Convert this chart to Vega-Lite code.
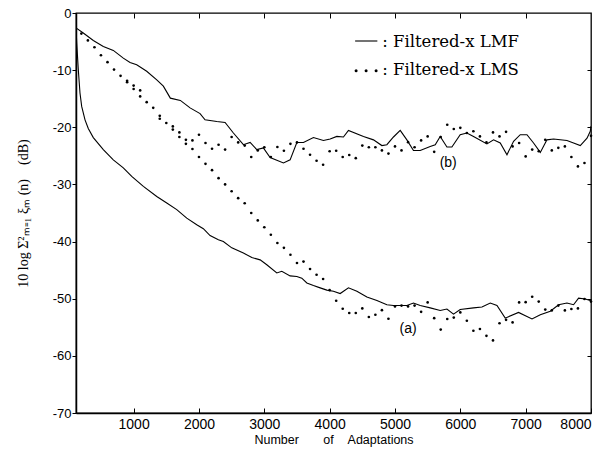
{
  "$schema": "https://vega.github.io/schema/vega-lite/v6.json",
  "width": 515,
  "height": 400,
  "autosize": "none",
  "padding": {"left": 76, "top": 13, "right": 16, "bottom": 37},
  "background": "white",
  "config": {
    "view": {"stroke": "black", "strokeWidth": 1.3},
    "axis": {"grid": false, "domainColor": "black", "tickColor": "black", "labelColor": "black", "titleColor": "black", "labelFont": "Liberation Sans", "titleFont": "Liberation Sans", "titleFontWeight": "normal", "domainWidth": 1.5}
  },
  "datasets": {
    "lmf": [
      {"n":118,"db":-2.6,"curve":"b"},{"n":230,"db":-3.5,"curve":"b"},{"n":383,"db":-4.8,"curve":"b"},{"n":536,"db":-5.85,"curve":"b"},{"n":689,"db":-6.55,"curve":"b"},{"n":842,"db":-7.9,"curve":"b"},{"n":945,"db":-8.65,"curve":"b"},{"n":1047,"db":-9.05,"curve":"b"},{"n":1200,"db":-10.2,"curve":"b"},{"n":1354,"db":-11.7,"curve":"b"},{"n":1455,"db":-12.8,"curve":"b"},{"n":1562,"db":-14.9,"curve":"b"},{"n":1715,"db":-15.3,"curve":"b"},{"n":1864,"db":-16.6,"curve":"b"},{"n":2017,"db":-17.6,"curve":"b"},{"n":2093,"db":-18.7,"curve":"b"},{"n":2273,"db":-19.0,"curve":"b"},{"n":2400,"db":-19.15,"curve":"b"},{"n":2527,"db":-21.0,"curve":"b"},{"n":2680,"db":-23.05,"curve":"b"},{"n":2783,"db":-22.65,"curve":"b"},{"n":2885,"db":-23.9,"curve":"b"},{"n":2986,"db":-23.6,"curve":"b"},{"n":3089,"db":-25.3,"curve":"b"},{"n":3293,"db":-26.25,"curve":"b"},{"n":3395,"db":-25.7,"curve":"b"},{"n":3498,"db":-22.65,"curve":"b"},{"n":3599,"db":-22.65,"curve":"b"},{"n":3752,"db":-21.8,"curve":"b"},{"n":3905,"db":-22.3,"curve":"b"},{"n":4008,"db":-22.05,"curve":"b"},{"n":4110,"db":-21.6,"curve":"b"},{"n":4211,"db":-21.7,"curve":"b"},{"n":4288,"db":-20.55,"curve":"b"},{"n":4518,"db":-21.6,"curve":"b"},{"n":4671,"db":-22.2,"curve":"b"},{"n":4799,"db":-23.2,"curve":"b"},{"n":4876,"db":-23.05,"curve":"b"},{"n":4977,"db":-21.7,"curve":"b"},{"n":5080,"db":-20.55,"curve":"b"},{"n":5182,"db":-22.2,"curve":"b"},{"n":5283,"db":-24.05,"curve":"b"},{"n":5386,"db":-24.05,"curve":"b"},{"n":5539,"db":-23.35,"curve":"b"},{"n":5616,"db":-23.05,"curve":"b"},{"n":5692,"db":-21.6,"curve":"b"},{"n":5795,"db":-23.45,"curve":"b"},{"n":5871,"db":-23.45,"curve":"b"},{"n":5998,"db":-21.3,"curve":"b"},{"n":6101,"db":-21.0,"curve":"b"},{"n":6202,"db":-21.6,"curve":"b"},{"n":6407,"db":-22.9,"curve":"b"},{"n":6509,"db":-22.2,"curve":"b"},{"n":6611,"db":-22.75,"curve":"b"},{"n":6714,"db":-24.8,"curve":"b"},{"n":6815,"db":-22.45,"curve":"b"},{"n":6917,"db":-21.3,"curve":"b"},{"n":7020,"db":-21.3,"curve":"b"},{"n":7121,"db":-22.75,"curve":"b"},{"n":7224,"db":-24.4,"curve":"b"},{"n":7326,"db":-22.2,"curve":"b"},{"n":7427,"db":-22.05,"curve":"b"},{"n":7632,"db":-22.3,"curve":"b"},{"n":7733,"db":-22.75,"curve":"b"},{"n":7836,"db":-23.2,"curve":"b"},{"n":7939,"db":-21.9,"curve":"b"},{"n":7989,"db":-20.7,"curve":"b"},{"n":8000,"db":-19.8,"curve":"b"},
      {"n":118,"db":-2.6,"curve":"a"},{"n":129,"db":-5.25,"curve":"a"},{"n":153,"db":-9.9,"curve":"a"},{"n":179,"db":-14.0,"curve":"a"},{"n":205,"db":-16.35,"curve":"a"},{"n":256,"db":-18.7,"curve":"a"},{"n":306,"db":-20.2,"curve":"a"},{"n":383,"db":-21.8,"curve":"a"},{"n":536,"db":-23.9,"curve":"a"},{"n":689,"db":-25.7,"curve":"a"},{"n":842,"db":-27.1,"curve":"a"},{"n":971,"db":-28.6,"curve":"a"},{"n":1149,"db":-30.35,"curve":"a"},{"n":1354,"db":-32.1,"curve":"a"},{"n":1507,"db":-33.25,"curve":"a"},{"n":1660,"db":-34.4,"curve":"a"},{"n":1813,"db":-35.9,"curve":"a"},{"n":1966,"db":-37.05,"curve":"a"},{"n":2067,"db":-37.75,"curve":"a"},{"n":2170,"db":-38.95,"curve":"a"},{"n":2297,"db":-39.7,"curve":"a"},{"n":2373,"db":-40.0,"curve":"a"},{"n":2502,"db":-41.1,"curve":"a"},{"n":2680,"db":-42.0,"curve":"a"},{"n":2809,"db":-42.8,"curve":"a"},{"n":2936,"db":-43.2,"curve":"a"},{"n":3038,"db":-44.05,"curve":"a"},{"n":3191,"db":-45.5,"curve":"a"},{"n":3268,"db":-45.2,"curve":"a"},{"n":3395,"db":-46.0,"curve":"a"},{"n":3498,"db":-46.1,"curve":"a"},{"n":3574,"db":-46.4,"curve":"a"},{"n":3651,"db":-47.25,"curve":"a"},{"n":3752,"db":-47.7,"curve":"a"},{"n":3855,"db":-48.1,"curve":"a"},{"n":3957,"db":-48.5,"curve":"a"},{"n":4058,"db":-48.7,"curve":"a"},{"n":4161,"db":-49.1,"curve":"a"},{"n":4288,"db":-48.1,"curve":"a"},{"n":4417,"db":-48.7,"curve":"a"},{"n":4570,"db":-49.7,"curve":"a"},{"n":4723,"db":-50.3,"curve":"a"},{"n":4876,"db":-51.05,"curve":"a"},{"n":4977,"db":-51.2,"curve":"a"},{"n":5182,"db":-51.2,"curve":"a"},{"n":5283,"db":-50.75,"curve":"a"},{"n":5386,"db":-51.2,"curve":"a"},{"n":5539,"db":-51.6,"curve":"a"},{"n":5692,"db":-52.05,"curve":"a"},{"n":5795,"db":-51.8,"curve":"a"},{"n":5896,"db":-52.7,"curve":"a"},{"n":5998,"db":-51.9,"curve":"a"},{"n":6202,"db":-51.6,"curve":"a"},{"n":6331,"db":-51.45,"curve":"a"},{"n":6458,"db":-50.75,"curve":"a"},{"n":6561,"db":-51.2,"curve":"a"},{"n":6687,"db":-53.4,"curve":"a"},{"n":6891,"db":-52.4,"curve":"a"},{"n":7097,"db":-53.55,"curve":"a"},{"n":7224,"db":-52.8,"curve":"a"},{"n":7377,"db":-52.2,"curve":"a"},{"n":7504,"db":-51.05,"curve":"a"},{"n":7632,"db":-50.75,"curve":"a"},{"n":7733,"db":-51.05,"curve":"a"},{"n":7810,"db":-49.9,"curve":"a"},{"n":7913,"db":-50.05,"curve":"a"},{"n":8000,"db":-50.35,"curve":"a"}
    ],
    "lms": [
      {"n":200,"db":-3.6,"curve":"b"},{"n":300,"db":-4.8,"curve":"b"},{"n":400,"db":-6.0,"curve":"b"},{"n":500,"db":-7.4,"curve":"b"},{"n":600,"db":-8.6,"curve":"b"},{"n":700,"db":-9.9,"curve":"b"},{"n":800,"db":-11.0,"curve":"b"},{"n":900,"db":-11.85,"curve":"b"},{"n":1000,"db":-12.7,"curve":"b"},{"n":1100,"db":-13.55,"curve":"b"},{"n":1200,"db":-15.6,"curve":"b"},{"n":1300,"db":-16.6,"curve":"b"},{"n":1400,"db":-18.0,"curve":"b"},{"n":1500,"db":-19.25,"curve":"b"},{"n":1600,"db":-19.85,"curve":"b"},{"n":1700,"db":-20.9,"curve":"b"},{"n":1800,"db":-22.2,"curve":"b"},{"n":1900,"db":-22.3,"curve":"b"},{"n":2000,"db":-21.3,"curve":"b"},{"n":2100,"db":-22.75,"curve":"b"},{"n":2200,"db":-23.75,"curve":"b"},{"n":2300,"db":-23.05,"curve":"b"},{"n":2400,"db":-23.9,"curve":"b"},{"n":2500,"db":-21.7,"curve":"b"},{"n":2600,"db":-22.65,"curve":"b"},{"n":2700,"db":-23.2,"curve":"b"},{"n":2800,"db":-25.2,"curve":"b"},{"n":2900,"db":-24.05,"curve":"b"},{"n":3000,"db":-23.5,"curve":"b"},{"n":3100,"db":-25.2,"curve":"b"},{"n":3200,"db":-23.45,"curve":"b"},{"n":3300,"db":-24.1,"curve":"b"},{"n":3400,"db":-22.9,"curve":"b"},{"n":3500,"db":-22.65,"curve":"b"},{"n":3600,"db":-23.75,"curve":"b"},{"n":3700,"db":-24.8,"curve":"b"},{"n":3800,"db":-25.85,"curve":"b"},{"n":3900,"db":-26.55,"curve":"b"},{"n":4000,"db":-24.2,"curve":"b"},{"n":4100,"db":-24.1,"curve":"b"},{"n":4200,"db":-25.2,"curve":"b"},{"n":4300,"db":-24.85,"curve":"b"},{"n":4400,"db":-25.4,"curve":"b"},{"n":4500,"db":-23.2,"curve":"b"},{"n":4600,"db":-23.5,"curve":"b"},{"n":4700,"db":-23.5,"curve":"b"},{"n":4800,"db":-24.05,"curve":"b"},{"n":4900,"db":-24.6,"curve":"b"},{"n":5000,"db":-23.35,"curve":"b"},{"n":5100,"db":-24.05,"curve":"b"},{"n":5200,"db":-22.6,"curve":"b"},{"n":5300,"db":-23.5,"curve":"b"},{"n":5400,"db":-22.3,"curve":"b"},{"n":5500,"db":-21.6,"curve":"b"},{"n":5600,"db":-24.3,"curve":"b"},{"n":5700,"db":-21.7,"curve":"b"},{"n":5800,"db":-19.55,"curve":"b"},{"n":5900,"db":-20.3,"curve":"b"},{"n":6000,"db":-20.1,"curve":"b"},{"n":6100,"db":-21.0,"curve":"b"},{"n":6200,"db":-20.7,"curve":"b"},{"n":6300,"db":-21.6,"curve":"b"},{"n":6400,"db":-22.65,"curve":"b"},{"n":6500,"db":-20.9,"curve":"b"},{"n":6600,"db":-21.6,"curve":"b"},{"n":6700,"db":-20.8,"curve":"b"},{"n":6800,"db":-23.35,"curve":"b"},{"n":6900,"db":-22.75,"curve":"b"},{"n":7000,"db":-25.1,"curve":"b"},{"n":7100,"db":-23.9,"curve":"b"},{"n":7200,"db":-24.2,"curve":"b"},{"n":7300,"db":-22.2,"curve":"b"},{"n":7400,"db":-24.05,"curve":"b"},{"n":7500,"db":-23.6,"curve":"b"},{"n":7600,"db":-23.35,"curve":"b"},{"n":7700,"db":-25.2,"curve":"b"},{"n":7800,"db":-26.85,"curve":"b"},{"n":7900,"db":-26.25,"curve":"b"},{"n":8000,"db":-21.5,"curve":"b"},
      {"n":900,"db":-12.1,"curve":"a"},{"n":1000,"db":-13.3,"curve":"a"},{"n":1100,"db":-14.6,"curve":"a"},{"n":1400,"db":-18.5,"curve":"a"},{"n":1600,"db":-20.4,"curve":"a"},{"n":1700,"db":-21.7,"curve":"a"},{"n":1800,"db":-22.9,"curve":"a"},{"n":1900,"db":-23.8,"curve":"a"},{"n":2000,"db":-25.2,"curve":"a"},{"n":2100,"db":-26.4,"curve":"a"},{"n":2200,"db":-27.5,"curve":"a"},{"n":2300,"db":-28.9,"curve":"a"},{"n":2400,"db":-30.0,"curve":"a"},{"n":2500,"db":-31.2,"curve":"a"},{"n":2600,"db":-32.4,"curve":"a"},{"n":2700,"db":-33.3,"curve":"a"},{"n":2800,"db":-35.0,"curve":"a"},{"n":2900,"db":-36.3,"curve":"a"},{"n":3000,"db":-37.5,"curve":"a"},{"n":3100,"db":-38.8,"curve":"a"},{"n":3200,"db":-40.25,"curve":"a"},{"n":3300,"db":-41.1,"curve":"a"},{"n":3400,"db":-42.3,"curve":"a"},{"n":3500,"db":-43.75,"curve":"a"},{"n":3600,"db":-43.5,"curve":"a"},{"n":3700,"db":-44.8,"curve":"a"},{"n":3800,"db":-45.8,"curve":"a"},{"n":3900,"db":-46.55,"curve":"a"},{"n":4000,"db":-48.5,"curve":"a"},{"n":4100,"db":-50.35,"curve":"a"},{"n":4200,"db":-51.75,"curve":"a"},{"n":4300,"db":-52.5,"curve":"a"},{"n":4400,"db":-52.5,"curve":"a"},{"n":4500,"db":-51.7,"curve":"a"},{"n":4600,"db":-53.2,"curve":"a"},{"n":4700,"db":-52.8,"curve":"a"},{"n":4800,"db":-52.0,"curve":"a"},{"n":4900,"db":-53.5,"curve":"a"},{"n":5000,"db":-51.35,"curve":"a"},{"n":5100,"db":-51.2,"curve":"a"},{"n":5200,"db":-51.35,"curve":"a"},{"n":5300,"db":-51.2,"curve":"a"},{"n":5400,"db":-52.3,"curve":"a"},{"n":5500,"db":-50.65,"curve":"a"},{"n":5600,"db":-53.4,"curve":"a"},{"n":5700,"db":-55.4,"curve":"a"},{"n":5800,"db":-53.55,"curve":"a"},{"n":5900,"db":-53.3,"curve":"a"},{"n":6000,"db":-52.4,"curve":"a"},{"n":6100,"db":-53.85,"curve":"a"},{"n":6200,"db":-55.6,"curve":"a"},{"n":6300,"db":-55.3,"curve":"a"},{"n":6400,"db":-56.5,"curve":"a"},{"n":6500,"db":-57.3,"curve":"a"},{"n":6600,"db":-54.3,"curve":"a"},{"n":6700,"db":-53.7,"curve":"a"},{"n":6800,"db":-54.15,"curve":"a"},{"n":6900,"db":-50.65,"curve":"a"},{"n":7000,"db":-50.6,"curve":"a"},{"n":7100,"db":-49.65,"curve":"a"},{"n":7200,"db":-50.5,"curve":"a"},{"n":7300,"db":-51.9,"curve":"a"},{"n":7400,"db":-52.05,"curve":"a"},{"n":7500,"db":-51.2,"curve":"a"},{"n":7600,"db":-52.05,"curve":"a"},{"n":7700,"db":-51.8,"curve":"a"},{"n":7800,"db":-51.7,"curve":"a"},{"n":7900,"db":-50.05,"curve":"a"},{"n":8000,"db":-50.5,"curve":"a"}
    ]
  },
  "resolve": {"axis": {"x": "independent", "y": "independent"}},
  "layer": [
    {
      "data": {"name": "lmf"},
      "mark": {"type": "line", "color": "black", "strokeWidth": 1.1, "clip": true},
      "encoding": {
        "x": {"field": "n", "type": "quantitative", "scale": {"domain": [118, 8000], "nice": false, "zero": false},
              "axis": {"orient": "bottom", "values": [1000,2000,3000,4000,5000,6000,7000,8000], "format": "d", "tickSize": -5, "labelPadding": 9, "labelFontSize": 14, "title": "Number\u00a0\u00a0\u00a0\u00a0\u00a0\u00a0\u00a0of\u00a0\u00a0\u00a0\u00a0Adaptations", "titleFontSize": 12.5, "titlePadding": 2}},
        "y": {"field": "db", "type": "quantitative", "scale": {"domain": [-70, 0], "nice": false, "zero": false},
              "axis": {"orient": "left", "values": [-70,-60,-50,-40,-30,-20,-10,0], "labelExpr": "'' + datum.value", "tickSize": 4, "labelPadding": 1, "labelFontSize": 13, "title": "10 log Σ²ₘ₌₁ ξₘ (n)\u00a0\u00a0\u00a0\u00a0(dB)", "titleFont": "Liberation Serif", "titleFontSize": 14, "titlePadding": 22}},
        "detail": {"field": "curve"}
      }
    },
    {
      "data": {"name": "lms"},
      "mark": {"type": "circle", "color": "black", "size": 7, "opacity": 1},
      "encoding": {
        "x": {"field": "n", "type": "quantitative", "axis": {"orient": "top", "values": [1000,2000,3000,4000,5000,6000,7000], "labels": false, "tickSize": -5, "title": null, "domain": false}},
        "y": {"field": "db", "type": "quantitative", "axis": {"orient": "right", "values": [-60,-50,-40,-30,-20,-10], "labels": false, "tickSize": -4, "title": null, "domain": false}},
        "detail": {"field": "curve"}
      }
    },
    {
      "data": {"values": [{}]},
      "mark": {"type": "rule", "color": "black", "strokeWidth": 1.1},
      "encoding": {
        "x": {"datum": 4390, "type": "quantitative", "axis": null},
        "x2": {"datum": 4730},
        "y": {"datum": -4.9, "type": "quantitative", "axis": null}
      }
    },
    {
      "data": {"values": [{}]},
      "mark": {"type": "circle", "color": "black", "size": 9, "opacity": 1},
      "encoding": {"x": {"datum": 4405, "type": "quantitative", "axis": null}, "y": {"datum": -10.1, "type": "quantitative", "axis": null}}
    },
    {
      "data": {"values": [{}]},
      "mark": {"type": "circle", "color": "black", "size": 9, "opacity": 1},
      "encoding": {"x": {"datum": 4558, "type": "quantitative", "axis": null}, "y": {"datum": -10.1, "type": "quantitative", "axis": null}}
    },
    {
      "data": {"values": [{}]},
      "mark": {"type": "circle", "color": "black", "size": 9, "opacity": 1},
      "encoding": {"x": {"datum": 4711, "type": "quantitative", "axis": null}, "y": {"datum": -10.1, "type": "quantitative", "axis": null}}
    },
    {
      "data": {"values": [{}]},
      "mark": {"type": "text", "text": ": Filtered-x LMF", "align": "left", "baseline": "middle", "font": "DejaVu Serif", "fontSize": 16.5, "color": "black"},
      "encoding": {"x": {"datum": 4804, "type": "quantitative", "axis": null}, "y": {"datum": -5.0, "type": "quantitative", "axis": null}}
    },
    {
      "data": {"values": [{}]},
      "mark": {"type": "text", "text": ": Filtered-x LMS", "align": "left", "baseline": "middle", "font": "DejaVu Serif", "fontSize": 16.5, "color": "black"},
      "encoding": {"x": {"datum": 4804, "type": "quantitative", "axis": null}, "y": {"datum": -10.0, "type": "quantitative", "axis": null}}
    },
    {
      "data": {"values": [{}]},
      "mark": {"type": "text", "text": "(a)", "align": "center", "baseline": "middle", "font": "Liberation Sans", "fontSize": 14, "color": "black"},
      "encoding": {"x": {"datum": 5202, "type": "quantitative", "axis": null}, "y": {"datum": -55.3, "type": "quantitative", "axis": null}}
    },
    {
      "data": {"values": [{}]},
      "mark": {"type": "text", "text": "(b)", "align": "center", "baseline": "middle", "font": "Liberation Sans", "fontSize": 14, "color": "black"},
      "encoding": {"x": {"datum": 5815, "type": "quantitative", "axis": null}, "y": {"datum": -26.3, "type": "quantitative", "axis": null}}
    }
  ]
}
